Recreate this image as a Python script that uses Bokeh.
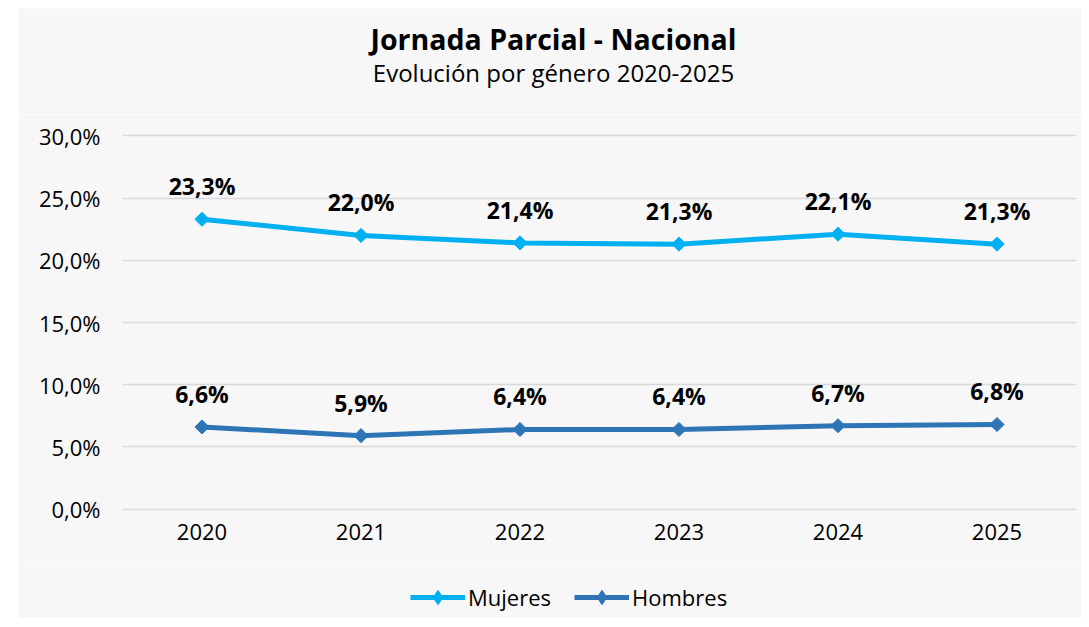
import numpy as np
from bokeh.plotting import figure
from bokeh.models import (ColumnDataSource, FixedTicker, Legend, LegendItem, Range1d, Spacer)
from bokeh.layouts import row, column
from bokeh.core.properties import value
from bokeh.embed import file_html
from bokeh.resources import INLINE

years = ["2020", "2021", "2022", "2023", "2024", "2025"]
mujeres = [23.3, 22.0, 21.4, 21.3, 22.1, 21.3]
hombres = [6.6, 5.9, 6.4, 6.4, 6.7, 6.8]
y_ticks = [0, 5, 10, 15, 20, 25, 30]
y_tick_labels = ["0,0%", "5,0%", "10,0%", "15,0%", "20,0%", "25,0%", "30,0%"]
series_names = ["Mujeres", "Hombres"]

title_text = "Jornada Parcial - Nacional"
subtitle_text = "Evolución por género 2020-2025"

C_MUJ = "#00B0F0"
C_HOM = "#2E75B6"
BG = "#f7f7f7"
W = 1063


def fmt(v):
    return f"{v:.1f}".replace(".", ",") + "%"


def blank(height):
    f = figure(width=W, height=height, output_backend="svg", toolbar_location=None,
               x_axis_type=None, y_axis_type=None, x_range=Range1d(0, W),
               y_range=Range1d(0, height), min_border=0)
    f.background_fill_color = BG
    f.border_fill_color = BG
    f.outline_line_color = None
    return f


# ---- title strip ----
TH = 106
top = blank(TH)
top.text(x=[535], y=[TH - 30], text=[title_text], text_align="center", text_baseline="middle",
         text_font=value("Open Sans"), text_font_style="bold", text_font_size="28.5px",
         text_color="#000000")
top.text(x=[535], y=[TH - 64], text=[subtitle_text], text_align="center", text_baseline="middle",
         text_font=value("Open Sans"), text_font_size="24px", text_color="#000000")

# ---- main chart ----
xs = list(range(len(years)))
src_m = ColumnDataSource(dict(x=xs, y=mujeres, lab=[fmt(v) for v in mujeres]))
src_h = ColumnDataSource(dict(x=xs, y=hombres, lab=[fmt(v) for v in hombres]))

p = figure(width=W, height=556 - TH, output_backend="svg", toolbar_location=None,
           x_range=Range1d(-0.5, len(years) - 0.5), y_range=Range1d(-1, 31),
           min_border_left=104, min_border_right=5, min_border_top=115 - TH,
           min_border_bottom=43)
p.background_fill_color = BG
p.border_fill_color = BG
p.outline_line_color = None

p.xaxis.ticker = FixedTicker(ticks=xs)
p.xaxis.major_label_overrides = {i: y for i, y in enumerate(years)}
p.yaxis.ticker = FixedTicker(ticks=y_ticks)
p.yaxis.major_label_overrides = {t: l for t, l in zip(y_ticks, y_tick_labels)}
for ax in (p.xaxis, p.yaxis):
    ax.axis_line_color = None
    ax.major_tick_line_color = None
    ax.minor_tick_line_color = None
    ax.major_tick_out = 0
    ax.major_label_text_font = "Open Sans"
    ax.major_label_text_font_size = "22px"
    ax.major_label_text_color = "#000000"
p.xaxis.major_label_standoff = 2
p.yaxis.major_label_standoff = 22

p.xgrid.grid_line_color = None
p.ygrid.grid_line_color = "#d9d9d9"
p.ygrid.grid_line_width = 1.5

p.line("x", "y", source=src_m, line_color=C_MUJ, line_width=5)
p.scatter("x", "y", source=src_m, marker="square", angle=np.pi / 4, size=10,
          fill_color=C_MUJ, line_color=C_MUJ)
p.line("x", "y", source=src_h, line_color=C_HOM, line_width=5)
p.scatter("x", "y", source=src_h, marker="square", angle=np.pi / 4, size=10,
          fill_color=C_HOM, line_color=C_HOM)

for src in (src_m, src_h):
    p.text("x", "y", text="lab", source=src, text_align="center", text_baseline="middle",
           y_offset=-33, text_font=value("Open Sans"), text_font_style="bold",
           text_font_size="23px", text_color="#000000")

# ---- legend strip ----
LH = 54
lg = blank(LH)
items = []
for name, col in zip(series_names, [C_MUJ, C_HOM]):
    off = ColumnDataSource(dict(x=[-50, -40], y=[-50, -50]))
    r1 = lg.line("x", "y", source=off, line_color=col, line_width=5)
    r2 = lg.scatter("x", "y", source=off, marker="diamond", size=15,
                    fill_color=col, line_color=col)
    items.append(LegendItem(label=name, renderers=[r1, r2]))

legend = Legend(items=items, orientation="horizontal", location=(392, 3))
legend.glyph_width = 55
legend.glyph_height = 36
legend.label_height = 22
legend.label_standoff = 3
legend.spacing = 23
legend.padding = 0
legend.margin = 0
legend.border_line_color = None
legend.background_fill_alpha = 0
legend.label_text_font = "Open Sans"
legend.label_text_font_size = "22px"
legend.label_text_color = "#000000"
lg.add_layout(legend, "center")

layout = column(Spacer(width=1081, height=8),
                row(Spacer(width=18, height=TH), top),
                row(Spacer(width=18, height=556 - TH), p),
                row(Spacer(width=18, height=LH), lg), spacing=0)
open("out.html", "w").write(file_html(layout, INLINE))
